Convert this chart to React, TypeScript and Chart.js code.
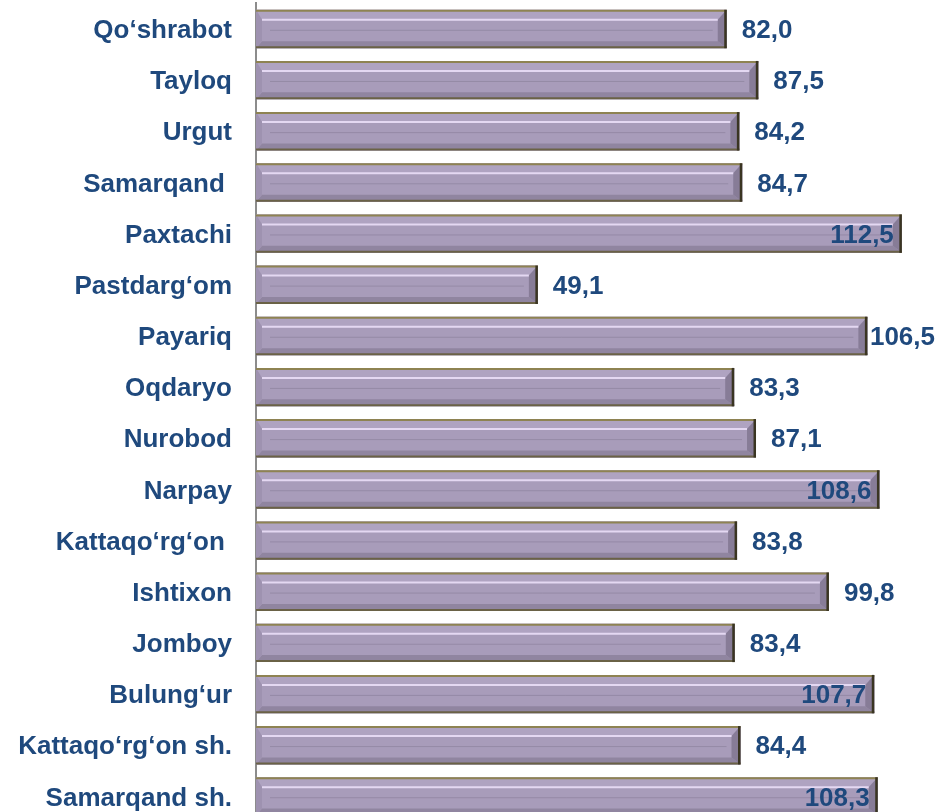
import React, { useEffect, useRef } from "react";
import { Chart, registerables } from "chart.js";

Chart.register(...registerables);

const categories: string[] = [
  "Qo‘shrabot",
  "Tayloq",
  "Urgut",
  "Samarqand ",
  "Paxtachi",
  "Pastdarg‘om",
  "Payariq",
  "Oqdaryo",
  "Nurobod",
  "Narpay",
  "Kattaqo‘rg‘on ",
  "Ishtixon",
  "Jomboy",
  "Bulung‘ur",
  "Kattaqo‘rg‘on sh.",
  "Samarqand sh.",
];

const values: number[] = [
  82.0, 87.5, 84.2, 84.7, 112.5, 49.1, 106.5, 83.3, 87.1, 108.6, 83.8, 99.8, 83.4, 107.7, 84.4, 108.3,
];

const X_MAX = 118.8;
const INSIDE_THRESHOLD = 107;

const TEXT_COLOR = "#1F497D";
const FONT = "bold 26px 'Liberation Sans', Arial, sans-serif";

const fmt = (v: number) => v.toFixed(1).replace(".", ",");

const bevelPlugin = {
  id: "bevelBars",
  afterDatasetsDraw(chart: any) {
    const ctx: CanvasRenderingContext2D = chart.ctx;
    const meta = chart.getDatasetMeta(0);
    ctx.save();
    meta.data.forEach((el: any, i: number) => {
      const p = el.getProps(["x", "y", "base", "height"], true);
      const L = p.base;
      const R = p.x;
      const T = p.y - p.height / 2;
      const B = p.y + p.height / 2;
      const dt = 10, db = 7, dr = 9, dl = 6;
      const poly = (pts: number[][], color: string) => {
        ctx.beginPath();
        ctx.moveTo(pts[0][0], pts[0][1]);
        for (let k = 1; k < pts.length; k++) ctx.lineTo(pts[k][0], pts[k][1]);
        ctx.closePath();
        ctx.fillStyle = color;
        ctx.fill();
      };
      // bevel faces
      poly([[L, T], [R, T], [R - dr, T + dt], [L + dl, T + dt]], "#AFA3C1");
      poly([[L, B], [R, B], [R - dr, B - db], [L + dl, B - db]], "#9085A0");
      poly([[R, T], [R, B], [R - dr, B - db], [R - dr, T + dt]], "#877C97");
      poly([[L, T], [L, B], [L + dl, B - db], [L + dl, T + dt]], "#9E92B0");
      // highlight line
      ctx.strokeStyle = "#E4D8F2";
      ctx.lineWidth = 2;
      ctx.beginPath();
      ctx.moveTo(L + dl, T + dt);
      ctx.lineTo(R - dr, T + dt);
      ctx.stroke();
      // faint middle line
      ctx.strokeStyle = "#958AA6";
      ctx.lineWidth = 1;
      ctx.beginPath();
      ctx.moveTo(L + 14, T + 20.5);
      ctx.lineTo(R - 14, T + 20.5);
      ctx.stroke();
      // outlines
      ctx.lineWidth = 2;
      ctx.strokeStyle = "#8E8352";
      ctx.beginPath();
      ctx.moveTo(L, T + 1);
      ctx.lineTo(R, T + 1);
      ctx.stroke();
      ctx.strokeStyle = "#6A6246";
      ctx.beginPath();
      ctx.moveTo(L, B - 1);
      ctx.lineTo(R, B - 1);
      ctx.stroke();
      ctx.lineWidth = 2.5;
      ctx.strokeStyle = "#3A3522";
      ctx.beginPath();
      ctx.moveTo(R - 1.25, T);
      ctx.lineTo(R - 1.25, B);
      ctx.stroke();

      // value labels
      const v = values[i];
      const txt = fmt(v);
      ctx.font = FONT;
      ctx.fillStyle = TEXT_COLOR;
      ctx.textBaseline = "middle";
      const w = ctx.measureText(txt).width;
      if (v >= INSIDE_THRESHOLD) {
        ctx.textAlign = "right";
        ctx.fillText(txt, R - 8, p.y + 2);
      } else {
        ctx.textAlign = "left";
        const tx = Math.min(R + 15, chart.width - 3 - w);
        ctx.fillText(txt, tx, p.y + 2);
      }
    });
    ctx.restore();
  },
};

export default function App() {
  const ref = useRef<HTMLCanvasElement | null>(null);

  useEffect(() => {
    if (!ref.current) return;
    const chart = new Chart(ref.current, {
      type: "bar",
      data: {
        labels: categories,
        datasets: [
          {
            data: values,
            backgroundColor: "#A89CBA",
            borderWidth: 0,
            categoryPercentage: 1,
            barPercentage: 0.75,
          },
        ],
      },
      options: {
        indexAxis: "y",
        animation: false,
        responsive: false,
        devicePixelRatio: 1,
        layout: { padding: { top: 3.4, bottom: 0, left: 0, right: 0 } },
        plugins: {
          legend: { display: false },
          tooltip: { enabled: false },
          title: { display: false },
        },
        scales: {
          x: {
            display: false,
            min: 0,
            max: X_MAX,
          },
          y: {
            grid: { display: false, drawTicks: false },
            border: { display: true, color: "#8C8C8C", width: 2 },
            ticks: {
              autoSkip: false,
              color: TEXT_COLOR,
              padding: 24,
              labelOffset: 2,
              font: { family: "'Liberation Sans', Arial, sans-serif", size: 26, weight: "bold" },
            },
            afterFit: (scale: any) => {
              scale.width = 256;
              scale.paddingTop = 0;
              scale.paddingBottom = 0;
            },
          },
        },
      },
      plugins: [bevelPlugin],
    } as any);
    return () => chart.destroy();
  }, []);

  return (
    <div
      style={{
        position: "absolute",
        left: 0,
        top: 0,
        width: 938,
        height: 812,
        overflow: "hidden",
        background: "#ffffff",
      }}
    >
      <canvas ref={ref} width={938} height={822} style={{ display: "block" }} />
    </div>
  );
}
